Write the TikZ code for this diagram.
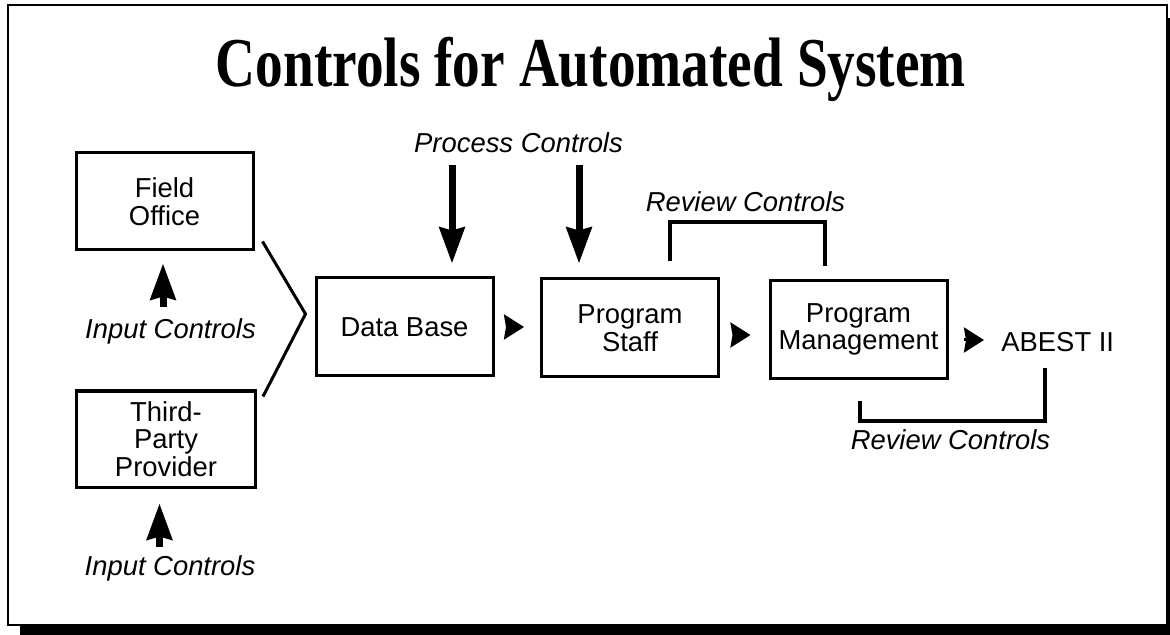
\documentclass[tikz,border=0pt]{standalone}
\usepackage{fontspec}
\setmainfont{Liberation Sans}
\newfontfamily\titlefont{Liberation Serif}
\usetikzlibrary{arrows.meta,calc}

\newcommand\boxfont{\fontsize{13.7}{13.8}\selectfont}
\newcommand\labelfont{\fontsize{13.7}{16}\selectfont\itshape}

\begin{document}
\begin{tikzpicture}[x=0.5pt,y=-0.5pt,
  box/.style={draw, line width=1.5pt, minimum width=88.5pt, minimum height=49pt,
              align=center, inner sep=0pt, font=\boxfont},
  ital/.style={font=\labelfont, inner sep=0pt, anchor=base},
  plain/.style={font=\boxfont, inner sep=0pt},
  bigarrow/.style={line width=3.5pt, -{Stealth[length=18pt,width=12.5pt,inset=1.5pt]}},
  smallarrow/.style={line width=1.5pt, -{Stealth[length=10pt,width=12.5pt,inset=1pt]}},
  bracket/.style={line width=2pt, line join=miter},
  feed/.style={line width=1.5pt, line join=miter}]

  \useasboundingbox (0,0) rectangle (1170,635);
  \clip (0,0) rectangle (1170,635);

  % framed panel with drop shadow
  \fill[black] (20,18) rectangle (1190,660);
  \draw[line width=1.25pt, fill=white] (8,5) rectangle (1167,625);

  % title
  \node[anchor=base, inner sep=0pt] (title) at (591,87)
    {\scalebox{0.79}[1]{\titlefont\fontsize{35}{40}\selectfont\bfseries Controls for Automated System}};

  % boxes
  \node[box, minimum height=48.5pt] (fo) at (164.5,201.5) {Field\\Office};
  \node[box, minimum width=89.5pt, minimum height=48pt] (tp) at (166,439) {Third-\\Party\\Provider};
  \node[box] (db) at (404.5,327) {Data Base};
  \node[box] (ps) at (630,328) {Program\\Staff};
  \node[box] (pm) at (858.5,329.5) {Program\\Management};
  \node[plain, anchor=base west] (ab) at (1001,351) {ABEST II};

  % control labels
  \node[ital] (ic1) at (170.5,339) {Input Controls};
  \node[ital] (ic2) at (170,575) {Input Controls};
  \node[ital] (pc) at (518.5,153) {Process Controls};
  \node[ital] (rc1) at (745.5,212) {Review Controls};
  \node[ital] (rc2) at (950.5,449) {Review Controls};

  % input control arrows
  \coordinate (in1) at (163,307);
  \draw[bigarrow, shorten >=6pt] (in1) -- (in1 |- fo.south);
  \coordinate (in2) at (159.5,547);
  \draw[bigarrow, shorten >=7.5pt] (in2) -- (in2 |- tp.south);

  % process control arrows
  \coordinate (pc1) at (452,165);
  \draw[bigarrow, shorten >=6.5pt] (pc1) -- (pc1 |- db.north);
  \coordinate (pc2) at (579,165);
  \draw[bigarrow, shorten >=7pt] (pc2) -- (pc2 |- ps.north);

  % sources feeding the data base
  \draw[feed] ($(fo.south east)+(8,-10)$) -- ($(db.west)+(-9,-13)$) -- ($(tp.north east)+(6,7)$);

  % flow arrows
  \draw[smallarrow, shorten <=6.5pt, shorten >=8pt] (db.east) -- (db.east -| ps.west);
  \draw[smallarrow, shorten <=6.5pt, shorten >=9pt] ($(ps.east)+(0,7)$) -- ($(ps.east -| pm.west)+(0,7)$);
  \draw[smallarrow, shorten <=7.5pt, shorten >=8.5pt] ($(pm.east)+(0,10.5)$) -- ($(pm.east -| ab.west)+(0,10.5)$);

  % review brackets
  \draw[bracket] ($(ps.north)+(40,-16)$) |- ($(pm.north)+(-33.5,-57)$) -- ($(pm.north)+(-33.5,-13)$);
  \draw[bracket] ($(pm.south)+(1.5,21)$) |- ($(ab.base)+(-13,70)$) -- ($(ab.base)+(-13,17)$);
\end{tikzpicture}
\end{document}
